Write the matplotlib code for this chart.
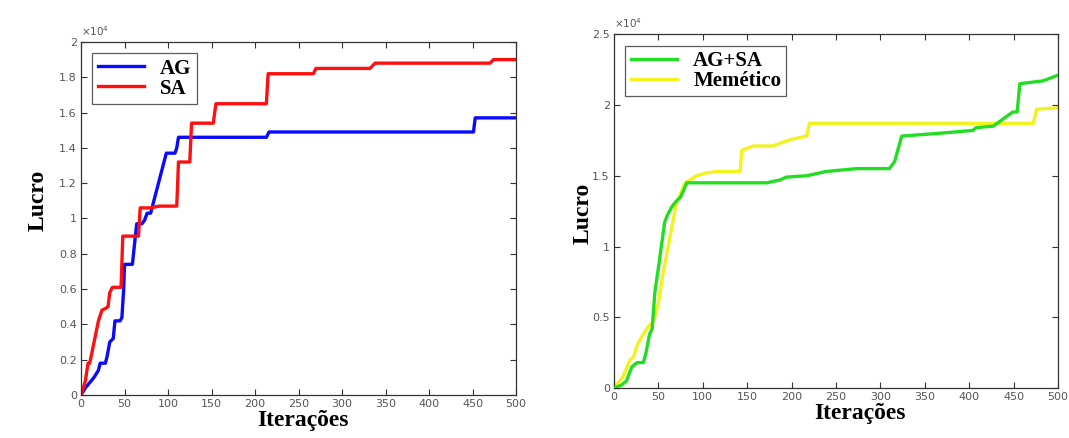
import matplotlib
matplotlib.use("Agg")
import matplotlib.pyplot as plt
from matplotlib.ticker import FuncFormatter

# ---- data (profit in units of 1e4) ----
ag_x = [0, 5, 10, 15, 20, 22, 28, 30, 33, 37, 39, 45, 47, 49, 50, 59, 64, 70, 73, 76, 80, 98, 108, 110, 112, 213, 216, 451, 453, 500]
ag_y = [0, 0.04, 0.07, 0.10, 0.14, 0.18, 0.18, 0.22, 0.30, 0.32, 0.42, 0.42, 0.44, 0.60, 0.74, 0.74, 0.97, 0.97, 0.99, 1.03, 1.03, 1.37, 1.37, 1.40, 1.46, 1.46, 1.49, 1.49, 1.57, 1.57]

sa_x = [0, 5, 8, 10, 15, 20, 24, 28, 31, 33, 36, 46, 48, 66, 68, 80, 90, 110, 112, 125, 127, 152, 155, 213, 215, 267, 270, 332, 338, 470, 474, 500]
sa_y = [0, 0.08, 0.18, 0.18, 0.30, 0.42, 0.48, 0.49, 0.50, 0.58, 0.61, 0.61, 0.90, 0.90, 1.06, 1.06, 1.07, 1.07, 1.32, 1.32, 1.54, 1.54, 1.65, 1.65, 1.82, 1.82, 1.85, 1.85, 1.88, 1.88, 1.90, 1.90]

agsa_x = [0, 8, 14, 20, 26, 33, 36, 40, 43, 46, 50, 57, 60, 65, 70, 75, 82, 172, 187, 194, 217, 239, 273, 310, 316, 324, 367, 404, 408, 427, 438, 449, 454, 457, 483, 500]
agsa_y = [0, 0.02, 0.05, 0.15, 0.18, 0.18, 0.25, 0.38, 0.42, 0.68, 0.85, 1.17, 1.22, 1.28, 1.32, 1.35, 1.45, 1.45, 1.47, 1.49, 1.50, 1.53, 1.55, 1.55, 1.60, 1.78, 1.80, 1.82, 1.84, 1.85, 1.90, 1.95, 1.95, 2.15, 2.17, 2.21]

mem_x = [0, 10, 18, 22, 26, 30, 37, 45, 50, 55, 61, 70, 80, 93, 104, 116, 142, 144, 157, 179, 187, 202, 217, 220, 472, 476, 500]
mem_y = [0, 0.08, 0.20, 0.22, 0.30, 0.35, 0.42, 0.48, 0.60, 0.80, 1.00, 1.30, 1.45, 1.50, 1.52, 1.53, 1.53, 1.68, 1.71, 1.71, 1.73, 1.76, 1.78, 1.87, 1.87, 1.97, 1.98]

x_ticks = list(range(0, 501, 50))
left_yticks = [0, 0.2, 0.4, 0.6, 0.8, 1, 1.2, 1.4, 1.6, 1.8, 2]
right_yticks = [0, 0.5, 1, 1.5, 2, 2.5]

serif = ["Liberation Serif", "DejaVu Serif"]

fig = plt.figure(figsize=(10.69, 4.38), dpi=100)
fig.patch.set_facecolor("white")

ax1 = fig.add_axes([0.0758, 0.0982, 0.407, 0.806])
ax2 = fig.add_axes([0.5744, 0.114, 0.4153, 0.808])

fmt = FuncFormatter(lambda v, p: "%g" % round(v, 3))


def style(ax, yticks, ymax, ylab_xy, xlab_xy):
    ax.set_xlim(0, 500)
    ax.set_ylim(0, ymax)
    ax.set_xticks(x_ticks)
    ax.set_yticks(yticks)
    ax.yaxis.set_major_formatter(fmt)
    ax.tick_params(direction="in", top=True, right=True, length=4, width=0.8,
                   labelsize=8, labelcolor="#555555", color="#333333", pad=3)
    for s in ax.spines.values():
        s.set_linewidth(0.9)
        s.set_color("#333333")
    ax.set_xlabel("Iterações", fontsize=17, fontweight="bold", family=serif)
    ax.set_ylabel("Lucro", fontsize=17, fontweight="bold", family=serif)
    ax.yaxis.set_label_coords(*ylab_xy)
    ax.xaxis.set_label_coords(*xlab_xy)
    ax.xaxis.label.set_va("center")
    ax.yaxis.label.set_va("center")
    ax.text(0.0, 1.012, "×10$^4$", transform=ax.transAxes, fontsize=7.5,
            color="#555555", ha="left", va="bottom")


ax1.plot(ag_x, ag_y, color="#0a0aff", lw=2.4, label="AG")
ax1.plot(sa_x, sa_y, color="#ff1010", lw=2.4, label="SA")
style(ax1, left_yticks, 2, (-0.099, 0.55), (0.51, -0.071))

ax2.plot(agsa_x, agsa_y, color="#22dd22", lw=2.4, label="AG+SA", zorder=3)
ax2.plot(mem_x, mem_y, color="#f2f21e", lw=2.4, label="Memético", zorder=2)
style(ax2, right_yticks, 2.5, (-0.07, 0.494), (0.554, -0.071))

for ax in (ax1, ax2):
    leg = ax.legend(loc="upper left", prop={"family": serif, "weight": "bold", "size": 15},
                    frameon=True, fancybox=False, edgecolor="#333333",
                    handlelength=2.2, handletextpad=0.8, borderpad=0.25,
                    labelspacing=0.0, borderaxespad=0.55)
    leg.get_frame().set_linewidth(0.9)

fig.savefig("out.png", dpi=100, facecolor="white")
